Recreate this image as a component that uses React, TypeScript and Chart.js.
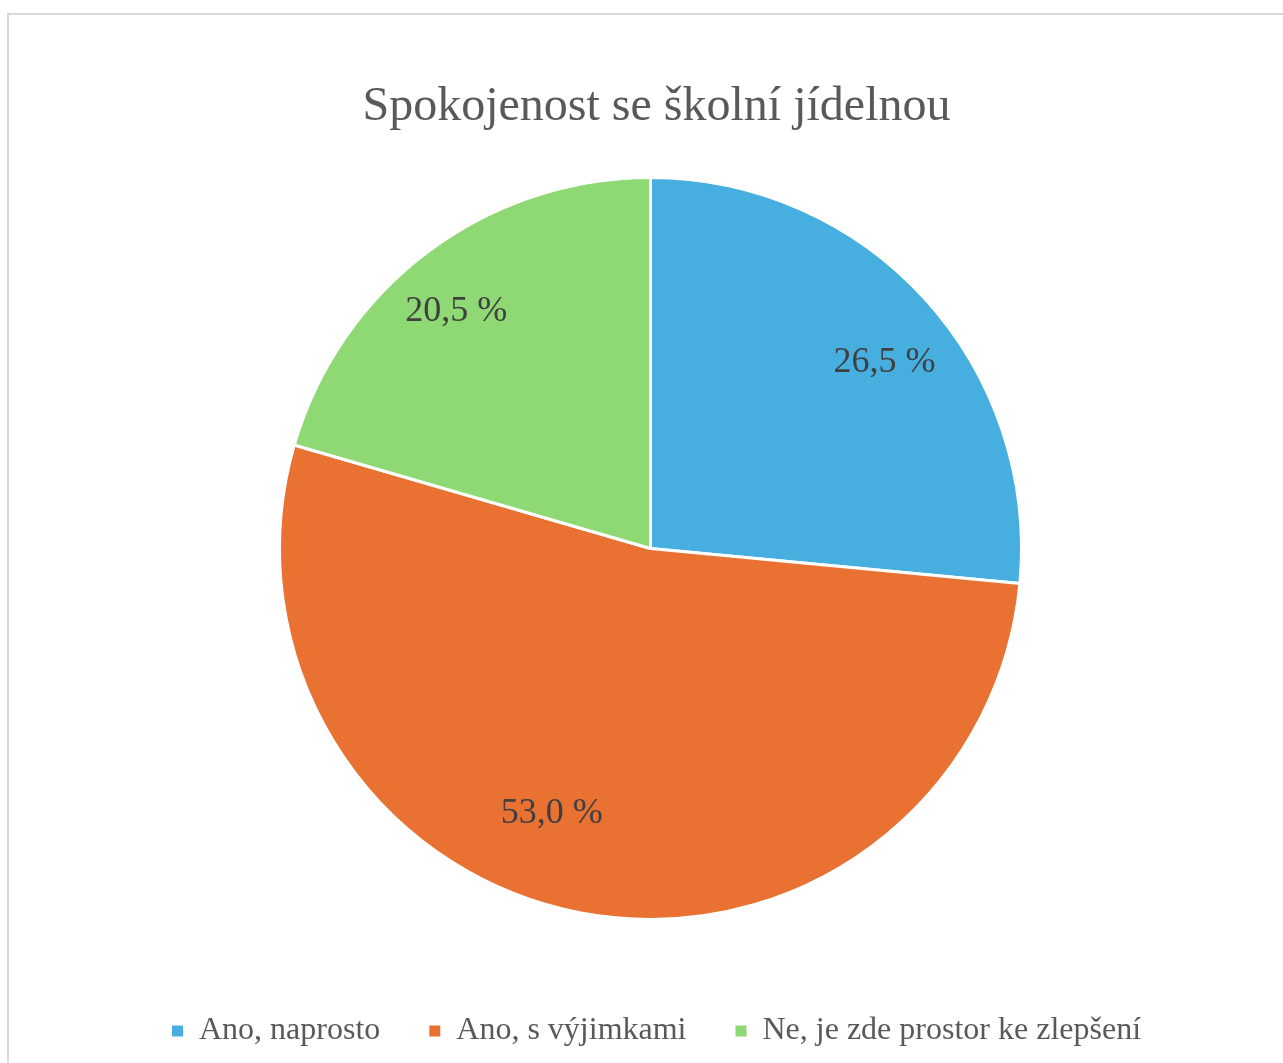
import React, { useEffect, useRef } from "react";
import { Chart, registerables } from "chart.js";

Chart.register(...registerables);

const TITLE = "Spokojenost se školní jídelnou";
const categories = ["Ano, naprosto", "Ano, s výjimkami", "Ne, je zde prostor ke zlepšení"];
const shares = [26.5, 53.0, 20.5];
const sliceColors = ["#46AFDF", "#E97132", "#8ED973"];

// label placement style (Excel best-fit imitation): angle shift in degrees and radius fraction
const labelAngleShift = [3.9, 9.6, -2.5];
const labelRadiusFrac = [0.805, 0.763, 0.825];

const W = 1283;
const H = 1063;
const FONT = "'Liberation Serif', 'Times New Roman', serif";

const fmt = (v: number) => v.toFixed(1).replace(".", ",") + " %";

const labelPlugin = {
  id: "sliceLabels",
  afterDatasetsDraw(chart: any) {
    const ctx = chart.ctx;
    const meta = chart.getDatasetMeta(0);
    const data = chart.data.datasets[0].data as number[];
    ctx.save();
    ctx.font = `36px ${FONT}`;
    ctx.fillStyle = "#404040";
    ctx.textAlign = "center";
    ctx.textBaseline = "middle";
    meta.data.forEach((arc: any, i: number) => {
      const { x, y, startAngle, endAngle, outerRadius } = arc.getProps(
        ["x", "y", "startAngle", "endAngle", "outerRadius"],
        true
      );
      const mid = (startAngle + endAngle) / 2 + (labelAngleShift[i] * Math.PI) / 180;
      const r = outerRadius * labelRadiusFrac[i];
      ctx.fillText(fmt(data[i]), x + Math.cos(mid) * r, y + Math.sin(mid) * r);
    });
    ctx.restore();
  },
};

const shiftPlugin = {
  id: "shiftArea",
  afterLayout(chart: any) {
    const a = chart.chartArea;
    a.left -= 6;
    a.right -= 6;
    a.top -= 3.5;
    a.bottom -= 3.5;
  },
};

export default function App() {
  const ref = useRef<HTMLCanvasElement | null>(null);

  useEffect(() => {
    if (!ref.current) return;
    const chart = new Chart(ref.current, {
      type: "pie",
      data: {
        labels: categories,
        datasets: [
          {
            data: shares,
            backgroundColor: sliceColors,
            borderColor: "#FFFFFF",
            borderWidth: 3,
          },
        ],
      },
      options: {
        responsive: false,
        animation: false,
        radius: 371,
        layout: { padding: { left: 30, right: 0, top: 0, bottom: 6 } },
        plugins: {
          title: {
            display: true,
            text: TITLE,
            color: "#595959",
            font: { family: FONT, size: 48, weight: "normal", lineHeight: 1 },
            padding: { top: 83, bottom: 7 },
          },
          legend: {
            position: "bottom",
            labels: {
              color: "#595959",
              font: { family: FONT, size: 32 },
              boxWidth: 11,
              boxHeight: 11,
              padding: 49,
              generateLabels(c: any) {
                const items = (Chart as any).overrides.pie.plugins.legend.labels.generateLabels(c);
                return items.map((it: any) => ({ ...it, lineWidth: 0, strokeStyle: "transparent" }));
              },
            },
          },
          tooltip: { enabled: false },
        },
      } as any,
      plugins: [labelPlugin, shiftPlugin],
    });
    return () => chart.destroy();
  }, []);

  return (
    <div
      style={{
        position: "fixed",
        left: 0,
        top: 0,
        width: W,
        height: H,
        overflow: "hidden",
        background: "#FFFFFF",
      }}
    >
      <div
        style={{
          position: "absolute",
          left: 7,
          top: 13,
          width: 1300,
          height: 1100,
          border: "2px solid #D9D9D9",
        }}
      />
      <canvas
        ref={ref}
        width={W}
        height={H}
        style={{ position: "absolute", left: 0, top: 0, width: W, height: H }}
      />
    </div>
  );
}
